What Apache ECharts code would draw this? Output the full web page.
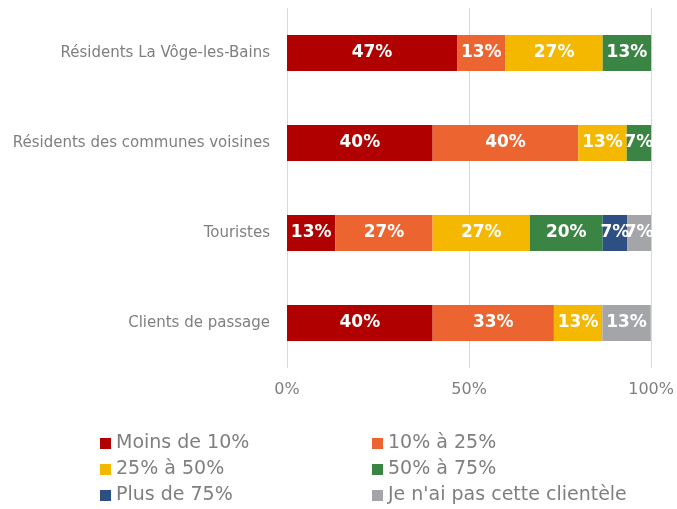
<!DOCTYPE html>
<html>
<head>
<meta charset="utf-8">
<script src="https://cdn.jsdelivr.net/npm/echarts@6/dist/echarts.min.js"></script>
<style>
  html, body { margin: 0; padding: 0; background: #fff; }
  #chart { width: 677px; height: 509px; }
</style>
</head>
<body>
<div id="chart"></div>
<script>
// categories, top to bottom
const categories = ['Résidents La Vôge-les-Bains', 'Résidents des communes voisines', 'Touristes', 'Clients de passage'];
const seriesNames = ['Moins de 10%', '10% à 25%', '25% à 50%', '50% à 75%', 'Plus de 75%', "Je n'ai pas cette clientèle"];
const colors = ['#B00000', '#EC6530', '#F5B800', '#3A8543', '#2E4F83', '#A4A5A8'];
// percentages per category (same order as categories)
const moins10 = [46.7, 40, 13.3, 40];
const de10a25 = [13.3, 40, 26.7, 33.3];
const de25a50 = [26.7, 13.3, 26.7, 13.3];
const de50a75 = [13.3, 6.7, 20, 0];
const plus75 = [0, 0, 6.7, 0];
const pasClientele = [0, 0, 6.7, 13.3];
const xTicks = [0, 50, 100];

const seriesValues = [moins10, de10a25, de25a50, de50a75, plus75, pasClientele];
const font = '"DejaVu Sans", sans-serif';

const legendText = { color: '#7F7F7F', fontSize: 19, fontFamily: font, lineHeight: 19 };
const legendBase = {
  orient: 'vertical', top: 434, height: 75, padding: 0, itemGap: 7,
  itemWidth: 11, itemHeight: 11, icon: 'rect', textStyle: legendText
};

const chart = echarts.init(document.getElementById('chart'));
const option = {
  animation: false,
  grid: { left: 287, right: 25, top: 8, bottom: 141 },
  xAxis: {
    type: 'value', min: 0, max: 100, interval: 50,
    axisLine: { show: false }, axisTick: { show: false },
    splitLine: { lineStyle: { color: '#D9D9D9', width: 1 } },
    axisLabel: { color: '#7F7F7F', fontSize: 16, fontFamily: font, margin: 14,
      formatter: v => xTicks.includes(v) ? v + '%' : '' }
  },
  yAxis: {
    type: 'category', inverse: true, data: categories,
    axisLine: { show: false }, axisTick: { show: false },
    axisLabel: { color: '#7F7F7F', fontSize: 15, fontFamily: font, margin: 17 }
  },
  legend: [
    Object.assign({}, legendBase, { left: 100, data: [seriesNames[0], seriesNames[2], seriesNames[4]] }),
    Object.assign({}, legendBase, { left: 372, data: [seriesNames[1], seriesNames[3], seriesNames[5]] })
  ],
  series: seriesNames.map((name, i) => ({
    name, type: 'bar', stack: 'total', barWidth: 36,
    itemStyle: { color: colors[i] },
    label: {
      show: true, color: '#fff', fontWeight: 'bold', fontSize: 17, fontFamily: font,
      formatter: p => p.value > 0 ? Math.round(p.value) + '%' : ''
    },
    data: seriesValues[i]
  }))
};
chart.setOption(option);
</script>
</body>
</html>
